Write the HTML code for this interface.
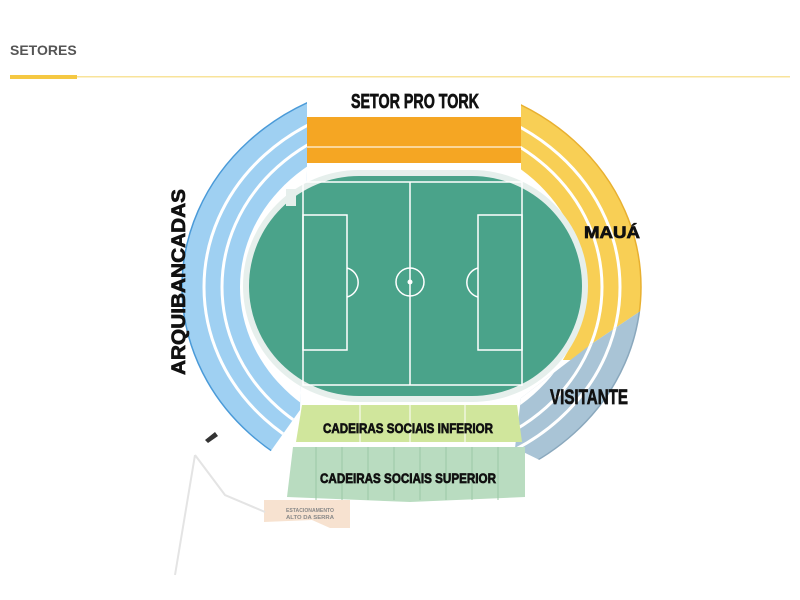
<!DOCTYPE html>
<html><head><meta charset="utf-8"><style>
html,body{margin:0;padding:0;background:#fff;width:800px;height:600px;overflow:hidden}
</style></head><body>
<svg width="800" height="600" viewBox="0 0 800 600" xmlns="http://www.w3.org/2000/svg" font-family="Liberation Sans, sans-serif">
<defs>
<clipPath id="cl"><polygon points="0,0 307,0 307,170 300,410 268,455 0,455"/></clipPath>
<clipPath id="cy"><polygon points="521,0 800,0 800,308 645,308 590,345 575,360 521,360"/></clipPath>
<clipPath id="cg"><polygon points="521,398 590,345 645,308 800,308 800,470 560,470 515,448"/></clipPath>
</defs>
<text x="10" y="55" font-size="14" font-weight="bold" fill="#555">SETORES</text>
<rect x="10" y="76" width="780" height="1.5" fill="#f8e39a"/>
<rect x="10" y="75" width="67" height="4" fill="#f5c842"/>

<g clip-path="url(#cl)">
<ellipse cx="412" cy="287" rx="230" ry="207" fill="#9fd0f2" stroke="#4a9ad8" stroke-width="1.5"/>
<ellipse cx="412" cy="287" rx="208" ry="187" fill="none" stroke="#fff" stroke-width="3"/>
<ellipse cx="412" cy="287" rx="190" ry="170" fill="none" stroke="#fff" stroke-width="3"/>
<ellipse cx="412" cy="287" rx="172" ry="152" fill="#fff"/>
</g>
<g clip-path="url(#cy)">
<ellipse cx="412" cy="287" rx="229" ry="207" fill="#f8cf55" stroke="#e8b030" stroke-width="1.5"/>
<ellipse cx="412" cy="287" rx="208" ry="187" fill="none" stroke="#fff" stroke-width="3"/>
<ellipse cx="412" cy="287" rx="190" ry="170" fill="none" stroke="#fff" stroke-width="3"/>
<ellipse cx="412" cy="287" rx="172" ry="152" fill="#fff"/>
</g>
<g clip-path="url(#cg)">
<ellipse cx="412" cy="287" rx="229" ry="207" fill="#a9c4d6" stroke="#8aa8bd" stroke-width="1.5"/>
<ellipse cx="412" cy="287" rx="208" ry="187" fill="none" stroke="#fff" stroke-width="3"/>
<ellipse cx="412" cy="287" rx="190" ry="170" fill="none" stroke="#fff" stroke-width="3"/>
<ellipse cx="412" cy="287" rx="172" ry="152" fill="#fff"/>
</g>

<rect x="307" y="117" width="214" height="46" fill="#f5a623"/>
<rect x="307" y="146" width="214" height="2" fill="#fbd79a"/>

<rect x="243" y="170" width="345" height="232" rx="116" fill="#e6efec"/>
<rect x="249" y="176" width="333" height="220" rx="110" fill="#4aa38a"/>
<g fill="none" stroke="#fff" stroke-width="1.5">
<rect x="303" y="182" width="219" height="203"/>
<line x1="410" y1="182" x2="410" y2="385"/>
<rect x="303" y="215" width="44" height="135"/>
<rect x="478" y="215" width="44" height="135"/>
<path d="M347,268 A15,15 0 0 1 347,297"/>
<path d="M478,268 A15,15 0 0 0 478,297"/>
<circle cx="410" cy="282" r="14"/>
</g>
<circle cx="410" cy="282" r="2.5" fill="#fff"/>
<rect x="286" y="189" width="10" height="17" fill="#e6efec"/>

<polygon points="302,405 517,405 522,442 296,442" fill="#d0e69c"/>
<g stroke="#fff" stroke-width="1"><line x1="360" y1="405" x2="360" y2="442"/><line x1="410" y1="405" x2="410" y2="442"/><line x1="465" y1="405" x2="465" y2="442"/></g>
<polygon points="293,447 525,447 525,497 410,502 287,497" fill="#b9dcc0"/>
<g stroke="#9cc7a6" stroke-width="1"><line x1="316" y1="447" x2="316" y2="500"/><line x1="342" y1="447" x2="342" y2="500"/><line x1="368" y1="447" x2="368" y2="500"/><line x1="394" y1="447" x2="394" y2="500"/><line x1="420" y1="447" x2="420" y2="500"/><line x1="446" y1="447" x2="446" y2="500"/><line x1="472" y1="447" x2="472" y2="500"/><line x1="498" y1="447" x2="498" y2="500"/></g>

<polygon points="264,500 350,500 350,528 330,528 312,520 264,522" fill="#f7e2d0"/>
<g stroke="#e4e4e4" stroke-width="2" fill="none"><path d="M195,455 L175,575 M195,455 L225,495 L265,512"/></g>
<path d="M205,440 l10,-8 l3,4 l-10,7z" fill="#333"/>

<g font-weight="bold" fill="#111" stroke="#111" stroke-width="0.7" text-anchor="middle">
<text x="415" y="108" font-size="20" textLength="128" lengthAdjust="spacingAndGlyphs">SETOR PRO TORK</text>
<text transform="translate(185,282) rotate(-90)" font-size="19" textLength="186" lengthAdjust="spacingAndGlyphs">ARQUIBANCADAS</text>
<text x="612" y="238" font-size="17" textLength="56" lengthAdjust="spacingAndGlyphs">MAUÁ</text>
<text x="589" y="404" font-size="21" textLength="78" lengthAdjust="spacingAndGlyphs">VISITANTE</text>
<text x="408" y="433" font-size="14" textLength="170" lengthAdjust="spacingAndGlyphs">CADEIRAS SOCIAIS INFERIOR</text>
<text x="408" y="483" font-size="14" textLength="176" lengthAdjust="spacingAndGlyphs">CADEIRAS SOCIAIS SUPERIOR</text>
</g>
<g font-weight="bold" fill="#888" text-anchor="middle">
<text x="310" y="512" font-size="5" textLength="48" lengthAdjust="spacingAndGlyphs">ESTACIONAMENTO</text>
<text x="310" y="519" font-size="5" textLength="48" lengthAdjust="spacingAndGlyphs">ALTO DA SERRA</text>
</g>
</svg>
</body></html>
